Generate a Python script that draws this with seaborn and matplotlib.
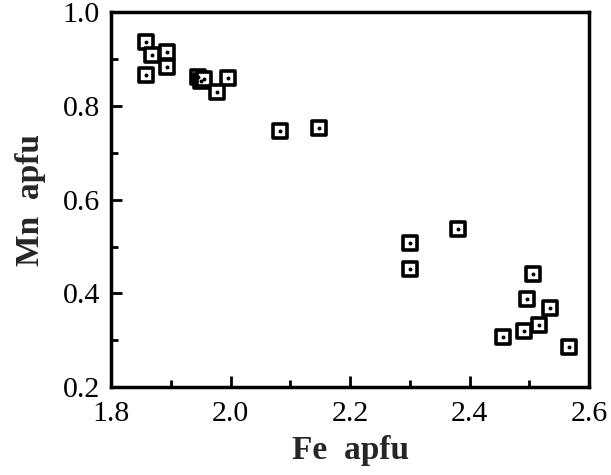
import matplotlib
matplotlib.use("Agg")
import matplotlib.pyplot as plt
import seaborn as sns
import pandas as pd
from matplotlib.ticker import MultipleLocator

# Fe / Mn atoms per formula unit
fe = [1.859, 1.868, 1.893, 1.893, 1.859, 1.945, 1.950, 1.955, 1.996, 1.977,
      2.082, 2.148, 2.300, 2.300, 2.380, 2.507, 2.497, 2.535, 2.516, 2.492,
      2.456, 2.567]
mn = [0.938, 0.909, 0.915, 0.884, 0.867, 0.862, 0.853, 0.858, 0.860, 0.831,
      0.747, 0.754, 0.507, 0.452, 0.538, 0.441, 0.387, 0.369, 0.332, 0.320,
      0.307, 0.285]

df = pd.DataFrame({"Fe": fe, "Mn": mn})

sns.set_theme(style="ticks")
plt.rcParams["font.family"] = ["Liberation Serif", "DejaVu Serif"]

fig = plt.figure(figsize=(6.11, 4.75), dpi=100)
ax = fig.add_axes([0.1817, 0.1853, 0.964 - 0.1817, 0.9737 - 0.1853])

# open square with a dot in the middle
sns.scatterplot(data=df, x="Fe", y="Mn", ax=ax, marker="s", s=110,
                facecolor="white", edgecolor="black", linewidth=2.6, zorder=3)
sns.scatterplot(data=df, x="Fe", y="Mn", ax=ax, marker="o", s=8,
                color="black", edgecolor="black", linewidth=0, zorder=4)

ax.set_xlim(1.8, 2.6)
ax.set_ylim(0.2, 1.0)
ax.xaxis.set_major_locator(MultipleLocator(0.2))
ax.xaxis.set_minor_locator(MultipleLocator(0.1))
ax.yaxis.set_major_locator(MultipleLocator(0.2))
ax.yaxis.set_minor_locator(MultipleLocator(0.1))
ax.xaxis.set_major_formatter(plt.FormatStrFormatter("%.1f"))
ax.yaxis.set_major_formatter(plt.FormatStrFormatter("%.1f"))

ax.tick_params(which="both", direction="in", top=False, right=False,
               width=2, color="black", labelsize=21.5, labelcolor="black")
ax.tick_params(which="major", length=8)
ax.tick_params(which="minor", length=5)
ax.tick_params(axis="x", which="major", pad=10)
ax.tick_params(axis="y", which="major", pad=8)

for sp in ax.spines.values():
    sp.set_visible(True)
    sp.set_linewidth(2.5)
    sp.set_color("black")

ax.set_xlabel("Fe  apfu", fontsize=24, fontweight="bold", labelpad=6)
ax.set_ylabel("Mn  apfu", fontsize=24, fontweight="bold", labelpad=12)

fig.savefig("out.png", dpi=100, facecolor="white")
